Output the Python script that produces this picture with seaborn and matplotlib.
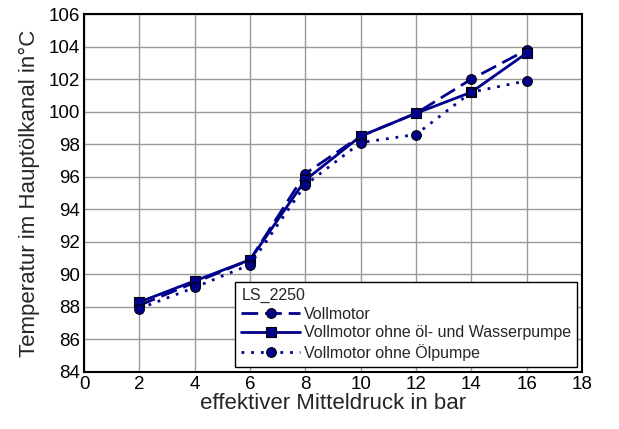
import pandas as pd
import matplotlib
matplotlib.use("Agg")
import matplotlib.pyplot as plt
import seaborn as sns

druck = [2, 4, 6, 8, 10, 12, 14, 16]
vollmotor = [88.1, 89.5, 90.9, 96.2, 98.5, 99.9, 102.0, 103.8]
ohne_oel_wasser = [88.3, 89.6, 90.9, 95.8, 98.5, 99.9, 101.2, 103.6]
ohne_oel = [87.9, 89.2, 90.6, 95.5, 98.1, 98.6, 101.2, 101.9]

series_names = ["Vollmotor", "Vollmotor ohne öl- und Wasserpumpe", "Vollmotor ohne Ölpumpe"]
series_values = [vollmotor, ohne_oel_wasser, ohne_oel]

sns.set_style("white")
plt.rcParams['font.family'] = ['Liberation Sans', 'DejaVu Sans']

fig, ax = plt.subplots(figsize=(6.19, 4.29), dpi=100)
fig.subplots_adjust(left=0.136, right=0.94, top=0.967, bottom=0.133)

color = '#00008B'
styles = [
    dict(linestyle=(0, (6, 2.5)), marker='o'),
    dict(linestyle='-', marker='s'),
    dict(linestyle=(0, (1, 2.5)), marker='o'),
]

for name, values, st in zip(series_names, series_values, styles):
    df = pd.DataFrame({'x': druck, 'y': values})
    sns.lineplot(data=df, x='x', y='y', ax=ax, color=color, linewidth=2,
                 linestyle=st['linestyle'], marker=st['marker'], markersize=7,
                 markeredgecolor='black', markeredgewidth=0.8, label=name)

ax.set_xlim(0, 18)
ax.set_ylim(84, 106)
ax.set_xticks(range(0, 19, 2))
ax.set_yticks(range(84, 107, 2))
ax.grid(True, color='#999999', linewidth=1)
ax.tick_params(direction='in', length=4, width=1.2, labelsize=13.5, colors='black', pad=3)
for sp in ax.spines.values():
    sp.set_color('black')
    sp.set_linewidth(1.5)

ax.set_xlabel('effektiver Mitteldruck in bar', fontsize=16, labelpad=0)
ax.set_ylabel('Temperatur im Hauptölkanal in°C', fontsize=16, labelpad=6)

leg = ax.legend(title='LS_2250', loc='lower right', fontsize=11.5, title_fontsize=11.5,
                frameon=True, fancybox=False, edgecolor='black', framealpha=1,
                handlelength=3.7, handletextpad=0.2, borderpad=0.4, labelspacing=0.22,
                borderaxespad=0.3)
leg._legend_box.align = 'left'
leg.get_frame().set_linewidth(1)

fig.savefig('out.png', dpi=100)
